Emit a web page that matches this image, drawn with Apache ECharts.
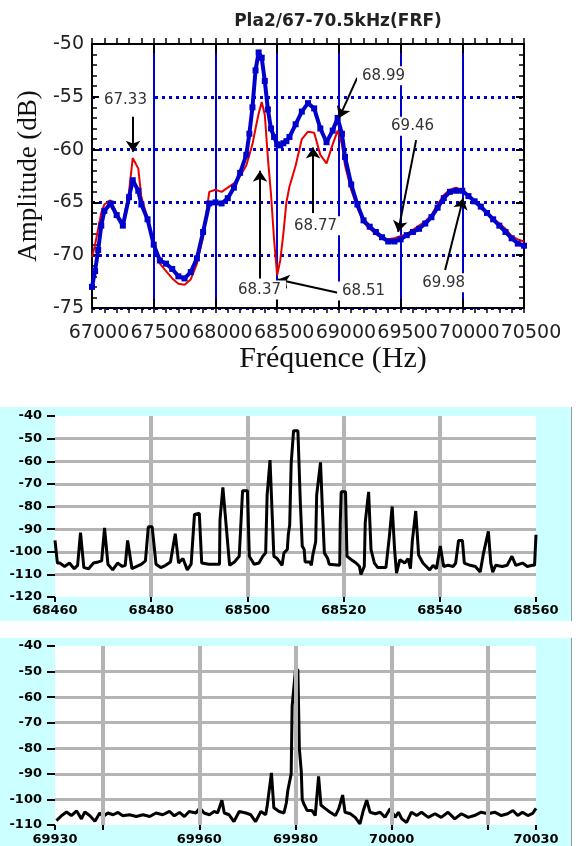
<!DOCTYPE html>
<html><head><meta charset="utf-8">
<script src="https://cdn.jsdelivr.net/npm/echarts@6/dist/echarts.min.js"></script>
<style>html,body{margin:0;padding:0;background:#fff}#c{width:580px;height:846px}</style>
</head><body><div id="c"></div>
<script>
// ---------- Top chart (FRF) ----------
const freqTop = [67000,67025,67050,67075,67100,
 67150,67200,67250,67300,67330,
 67375,67400,67450,67500,67550,
 67600,67650,67700,67750,67800,
 67850,67900,67950,68000,68050,
 68100,68150,68200,68250,68275,
 68300,68325,68350,68375,68400,
 68425,68450,68475,68500,68525,
 68550,68575,68600,68650,68700,
 68750,68800,68850,68900,68950,
 68990,69025,69050,69100,69150,
 69200,69250,69300,69350,69400,
 69450,69500,69550,69600,69650,
 69700,69750,69800,69850,69900,
 69950,70000,70050,70100,70150,
 70200,70250,70300,70350,70400,
 70450,70500];
const blueTop = [-73.0,-71.5,-69.5,-67.2,-65.8,
 -65.1,-66.2,-67.2,-64.5,-62.9,
 -63.9,-65.2,-66.6,-69.0,-70.5,
 -70.8,-71.3,-72.0,-72.2,-71.6,
 -70.3,-67.8,-65.1,-65.0,-65.1,
 -64.6,-63.6,-62.2,-60.5,-58.5,
 -56.0,-52.5,-50.8,-51.3,-53.5,
 -56.2,-58.0,-58.8,-59.5,-59.6,
 -59.4,-59.2,-58.8,-57.6,-56.4,
 -55.6,-56.1,-58.0,-59.3,-58.2,
 -57.0,-58.5,-60.7,-63.3,-65.2,
 -66.7,-67.3,-67.8,-68.3,-68.7,
 -68.7,-68.5,-68.1,-67.8,-67.5,
 -67.0,-66.4,-65.5,-64.6,-64.0,
 -63.9,-63.9,-64.4,-64.9,-65.4,
 -66.0,-66.6,-67.2,-67.8,-68.4,
 -68.9,-69.1];
const redTop = [-70.2,-69.0,-67.5,-66.0,-65.2,
 -64.8,-66.0,-67.0,-64.0,-60.8,
 -61.8,-64.5,-66.5,-69.0,-70.8,
 -71.5,-72.2,-72.7,-72.8,-72.3,
 -70.8,-68.3,-64.0,-63.8,-64.0,
 -63.6,-63.2,-62.5,-61.5,-60.5,
 -59.5,-58.0,-56.6,-55.5,-56.7,
 -60.8,-64.2,-68.5,-71.9,-70.5,
 -68.0,-65.0,-63.5,-61.5,-59.0,
 -58.3,-58.4,-60.5,-61.3,-59.5,
 -58.2,-59.5,-61.5,-63.8,-65.5,
 -66.9,-67.5,-68.0,-68.4,-68.5,
 -68.4,-68.2,-68.0,-67.6,-67.2,
 -66.8,-66.2,-65.2,-64.3,-63.8,
 -63.6,-63.9,-64.3,-64.8,-65.3,
 -65.9,-66.5,-67.0,-67.5,-68.2,
 -68.5,-68.7];
const annText = ['67.33','68.37','68.51','68.77','68.99','69.46','69.98'];
const annTextPos = [[67271,-55.3],[68357,-73.3],[69200,-73.4],[68811,-67.2],[69362,-53.0],[69597,-57.8],[69849,-72.6]];
const annArrowFrom = [[67332,-56.9],[68361,-72.2],[69010,-73.6],[68791,-66.0],[69148,-53.2],[69626,-59.1],[69861,-71.4]];
const annArrowTo = [[67332,-60.2],[68361,-62.0],[68507,-72.3],[68791,-59.8],[69002,-57.0],[69480,-67.8],[70007,-64.6]];

// ---------- Middle chart (68460-68560 Hz) ----------
const midPoints = [[68460,-95],[68460.5,-105],[68461,-105],[68462,-106.5],[68463,-105],[68464,-107.5],[68464.7,-106],[68465.3,-91.5],
 [68466,-107],[68467,-107.5],[68468,-105],[68469,-104.5],[68469.7,-104],[68470.3,-89.5],[68471,-105.5],[68472,-108],[68473,-105],
 [68474,-106.5],[68474.6,-106],[68475.1,-95],[68476,-107.5],[68477,-106.5],[68478,-105.5],[68478.8,-104],[68479.4,-89],[68480.2,-89],
 [68481,-105.5],[68482,-107],[68483,-106],[68484,-104.5],[68485,-92],[68485.7,-105],[68486.6,-103],[68487.5,-108],[68488.3,-105.5],
 [68489,-83.5],[68490,-83],[68490.5,-105],[68492,-105.5],[68494.2,-105.5],[68494.3,-86],[68494.9,-71.5],[68496.3,-106],[68497.3,-104.5],
 [68498.3,-102],[68499,-73],[68500,-73],[68500.4,-102],[68501.4,-105.5],[68502.4,-105],[68503.2,-102],[68503.8,-100.5],[68504.1,-75],
 [68504.7,-59.5],[68505.5,-102],[68506.2,-103],[68507.2,-106],[68507.6,-100.5],[68508.3,-99],[68508.5,-92.5],[68508.8,-88],[68509.1,-61],
 [68509.6,-46.5],[68510.5,-46.5],[68511,-78],[68511.4,-97.5],[68511.8,-99],[68512,-104.5],[68513,-104.5],[68513.3,-106],[68513.6,-101.5],
 [68514.2,-95.5],[68514.4,-75],[68515.2,-60.5],[68515.6,-81.5],[68516,-100.5],[68516.7,-103],[68517,-105.5],[68519.2,-106],[68519.3,-88],
 [68519.5,-73.5],[68520.4,-73.5],[68520.7,-102],[68521.6,-103.5],[68522.6,-105],[68523.3,-106.5],[68523.6,-110],[68524.3,-106.5],[68524.5,-87],
 [68525.2,-73.5],[68525.7,-99],[68526.4,-105],[68527.1,-107],[68528.8,-107],[68529.5,-93.5],[68530.1,-80],[68530.6,-99],[68531,-109.5],
 [68531.7,-103.5],[68532.7,-105],[68533.4,-103],[68533.9,-107.5],[68534.3,-95],[68535,-82],[68535.6,-101.5],[68536.5,-105],[68537.2,-106.5],
 [68537.9,-108],[68538.6,-106],[68539.3,-107.5],[68540.1,-97.5],[68540.8,-106.5],[68541.7,-106],[68542.8,-106.5],[68543.3,-105],[68543.9,-95],
 [68544.7,-95],[68545.1,-105],[68546.3,-106],[68547.4,-106.5],[68548.4,-109],[68549.1,-100.5],[68550.1,-91],[68550.6,-105],[68551,-109],
 [68551.6,-106],[68553,-106.5],[68554,-106],[68555,-102],[68555.8,-106],[68557.2,-105],[68558.2,-106.5],[68559.2,-106],[68559.7,-106],[68560,-92.5]];

// ---------- Bottom chart (69930-70030 Hz) ----------
const botPoints = [[69930.3,-108.3],[69931.4,-106.3],[69932.4,-104.9],[69933.4,-106.3],[69934.5,-104.5],[69935.5,-107.6],[69936.2,-104.9],
 [69937.2,-106.3],[69938.3,-108.5],[69939.3,-105.3],[69940,-106.7],[69941,-105.3],[69942.1,-106.0],[69943.1,-105.1],[69944.1,-106.4],
 [69945.5,-106.0],[69946.9,-106.7],[69948.3,-106.0],[69949.7,-106.7],[69951,-105.3],[69952.4,-106.0],[69953.8,-104.7],[69954.8,-106.4],
 [69955.9,-105.1],[69956.9,-106.7],[69957.9,-104.7],[69959.3,-105.3],[69960.1,-103.3],[69961,-105.3],[69962.1,-106.0],[69963.1,-104.7],
 [69963.8,-105.3],[69964.7,-100.3],[69965.2,-105.3],[69966.2,-106.0],[69967.2,-108.7],[69968.3,-104.7],[69969.7,-105.3],[69970.7,-106.0],
 [69971.7,-108.7],[69972.8,-104.7],[69973.8,-106.0],[69974.1,-102.7],[69975,-89.6],[69975.5,-103.3],[69976.6,-104.7],[69977.6,-105.3],
 [69978.1,-101.3],[69978.4,-96.5],[69979.1,-90],[69979.3,-63.5],[69980,-49.3],[69980.5,-49.3],[69980.8,-80],[69981.2,-89],[69981.4,-100],
 [69981.7,-101.6],[69982.4,-104.3],[69983.4,-104.3],[69984.1,-106.3],[69984.8,-91],[69985.3,-102.3],[69986.2,-103.6],[69987.2,-105],
 [69988.3,-106.3],[69989,-103.6],[69989.8,-98.3],[69990.3,-105],[69991.4,-105.6],[69992.4,-107],[69993.4,-109.6],[69994.1,-104.3],
 [69994.8,-100.3],[69995.5,-105],[69996.6,-105.6],[69997.6,-105],[69998.6,-107],[69999.7,-103.6],[70000.7,-107],[70001.4,-105],
 [70002.1,-107.6],[70003.1,-109],[70004.1,-105],[70005.2,-106.3],[70006.2,-105],[70007.6,-107],[70009,-105.6],[70010.3,-107],
 [70011.7,-105],[70013.1,-107.6],[70014.5,-105.6],[70015.9,-107],[70017.2,-106.3],[70018.6,-105],[70020,-105.6],[70021.4,-105],
 [70022.8,-106.3],[70024.1,-105.6],[70025.2,-104.3],[70026.2,-106.3],[70027.2,-105],[70028.3,-106.3],[70029.3,-105.5],[70030,-103.5]];
const botLabelValues = [69930,69960,69980,70000,70030];
const botTickValues = [69930,69940,69960,69980,70000,70020,70030];
const botGridValues = [69940,69960,69980,70000,70020];

const chart = echarts.init(document.getElementById('c'), null, {renderer:'canvas'});
const BLUE = '#0000cc', GRAY = '#b4b4b4', CYAN = '#ccffff';
const plain = v => String(v);
const smallFont = {fontFamily:'DejaVu Sans', fontWeight:'bold', fontSize:13, color:'#000'};
const topLabelFont = {fontFamily:'DejaVu Sans', fontSize:19, color:'#222'};

const option = {
  animation:false,
  backgroundColor:'#fff',
  title:{text:'Pla2/67-70.5kHz(FRF)', left:333, top:8, textAlign:'center',
    textStyle:{fontFamily:'DejaVu Sans', fontWeight:'bold', fontSize:17, color:'#222'}},
  graphic:[
    {type:'rect', z:-10, shape:{x:0,y:407,width:571,height:214}, style:{fill:CYAN}},
    {type:'rect', z:-10, shape:{x:0,y:638,width:571,height:208}, style:{fill:CYAN}},
    {type:'line', z:-9, shape:{x1:571.5,y1:407,x2:571.5,y2:621}, style:{stroke:'#999',lineWidth:1}},
    {type:'line', z:-9, shape:{x1:571.5,y1:638,x2:571.5,y2:846}, style:{stroke:'#999',lineWidth:1}}
  ],
  grid:[
    {left:92, top:44, width:432, height:264},
    {left:55, top:416, width:481, height:181, show:true, backgroundColor:'#fff', borderWidth:0},
    {left:55, top:646, width:481, height:182, show:true, backgroundColor:'#fff', borderWidth:0}
  ],
  xAxis:[
    {gridIndex:0, type:'value', position:'bottom', min:67000, max:70500, interval:500,
      axisLine:{show:true, lineStyle:{color:'#000', width:2}},
      axisTick:{show:true, inside:true, length:9, lineStyle:{color:'#000', width:2}},
      axisLabel:Object.assign({margin:16, padding:[0,0,0,14], formatter:plain, showMinLabel:true, showMaxLabel:true, hideOverlap:false}, topLabelFont),
      splitLine:{show:true, showMinLine:false, showMaxLine:false, lineStyle:{color:BLUE, width:2}},
      name:'Fréquence (Hz)', nameLocation:'middle', nameGap:34,
      nameTextStyle:{fontFamily:'Liberation Serif', fontSize:30, color:'#111', padding:[0,0,0,50]}},
    {gridIndex:0, type:'value', position:'top', min:67000, max:70500, interval:500,
      axisLine:{show:true, lineStyle:{color:'#000', width:2}},
      axisTick:{show:true, inside:true, length:9, lineStyle:{color:'#000', width:2}},
      axisLabel:{show:false}, splitLine:{show:false}},
    {gridIndex:0, type:'value', position:'top', min:67000, max:70500, interval:100,
      axisLine:{show:false},
      axisTick:{show:true, inside:false, length:6, lineStyle:{color:'#000', width:1.5}},
      axisLabel:{show:false}, splitLine:{show:false}},
    {gridIndex:0, type:'value', position:'bottom', min:67000, max:70500, interval:100,
      axisLine:{show:false},
      axisTick:{show:true, inside:false, length:5, lineStyle:{color:'#000', width:1.5}},
      axisLabel:{show:false}, splitLine:{show:false}},
    {gridIndex:1, type:'value', min:68460, max:68560, interval:20,
      axisLine:{show:false},
      axisTick:{show:true, length:5, lineStyle:{color:'#000', width:2}},
      axisLabel:Object.assign({margin:7, formatter:plain, showMinLabel:true, showMaxLabel:true}, smallFont),
      splitLine:{show:true, showMinLine:false, showMaxLine:false, lineStyle:{color:GRAY, width:4}}},
    {gridIndex:2, type:'value', min:69930, max:70030, interval:10,
      axisLine:{show:false},
      axisTick:{show:true, length:5, customValues:botTickValues, lineStyle:{color:'#000', width:2}},
      axisLabel:Object.assign({margin:8, customValues:botLabelValues,
        formatter:v => botLabelValues.indexOf(v) >= 0 ? String(v) : ''}, smallFont),
      splitLine:{show:false}}
  ],
  yAxis:[
    {gridIndex:0, type:'value', position:'left', min:-75, max:-50, interval:5,
      axisLine:{show:true, lineStyle:{color:'#000', width:2}},
      axisTick:{show:true, inside:true, length:8, lineStyle:{color:'#000', width:2}},
      minorTick:{show:true, splitNumber:5, length:5, lineStyle:{color:'#000', width:1.5}},
      axisLabel:Object.assign({margin:8}, topLabelFont),
      splitLine:{show:true, showMinLine:true, showMaxLine:false, lineStyle:{color:BLUE, width:3, type:[3,4]}},
      name:'Amplitude (dB)', nameLocation:'middle', nameGap:48, nameRotate:90,
      nameTextStyle:{fontFamily:'Liberation Serif', fontSize:27, color:'#111'}},
    {gridIndex:0, type:'value', position:'right', min:-75, max:-50, interval:5,
      axisLine:{show:true, lineStyle:{color:'#000', width:2}},
      axisTick:{show:true, inside:true, length:8, lineStyle:{color:'#000', width:2}},
      minorTick:{show:true, splitNumber:5, length:5, lineStyle:{color:'#000', width:1.5}},
      axisLabel:{show:false}, splitLine:{show:false}},
    {gridIndex:1, type:'value', min:-120, max:-40, interval:10,
      axisLine:{show:false},
      axisTick:{show:true, length:8, lineStyle:{color:'#000', width:2}},
      axisLabel:Object.assign({margin:13}, smallFont),
      splitLine:{show:true, showMinLine:false, showMaxLine:false, lineStyle:{color:GRAY, width:3}}},
    {gridIndex:2, type:'value', min:-110, max:-40, interval:10,
      axisLine:{show:false},
      axisTick:{show:true, length:8, lineStyle:{color:'#000', width:2}},
      axisLabel:Object.assign({margin:13}, smallFont),
      splitLine:{show:true, showMinLine:false, showMaxLine:false, lineStyle:{color:GRAY, width:3}}}
  ],
  series:[
    {type:'line', name:'red', xAxisIndex:0, yAxisIndex:0, z:2,
      data:freqTop.map((f,i)=>[f, redTop[i]]), symbol:'none',
      lineStyle:{color:'#e80000', width:2}},
    {type:'line', name:'blue', xAxisIndex:0, yAxisIndex:0, z:3,
      data:freqTop.map((f,i)=>[f, blueTop[i]]), symbol:'rect', symbolSize:6, showAllSymbol:true,
      itemStyle:{color:BLUE}, lineStyle:{color:BLUE, width:4},
      markLine:{silent:true, symbol:['none','arrow'], symbolSize:11, label:{show:false},
        lineStyle:{color:'#000', width:2, type:'solid'},
        data:annArrowFrom.map((p,i)=>[{coord:p}, {coord:annArrowTo[i]}])},
      markPoint:{silent:true, symbol:'rect', symbolSize:1, itemStyle:{color:'rgba(0,0,0,0)'},
        label:{show:true, position:'inside', formatter:'{b}', fontFamily:'DejaVu Sans', fontSize:15,
          color:'#333', backgroundColor:'#fff', padding:[2,5]},
        data:annText.map((t,i)=>({name:t, coord:annTextPos[i]}))}},
    {type:'line', xAxisIndex:4, yAxisIndex:2, z:3, data:midPoints, symbol:'none',
      lineStyle:{color:'#000', width:3}},
    {type:'line', xAxisIndex:5, yAxisIndex:3, z:1, data:[],
      markLine:{silent:true, symbol:'none', label:{show:false},
        lineStyle:{color:GRAY, width:4, type:'solid'},
        data:botGridValues.map(v=>({xAxis:v}))}},
    {type:'line', xAxisIndex:5, yAxisIndex:3, z:3, data:botPoints, symbol:'none',
      lineStyle:{color:'#000', width:3}}
  ]
};
chart.setOption(option);
</script></body></html>
